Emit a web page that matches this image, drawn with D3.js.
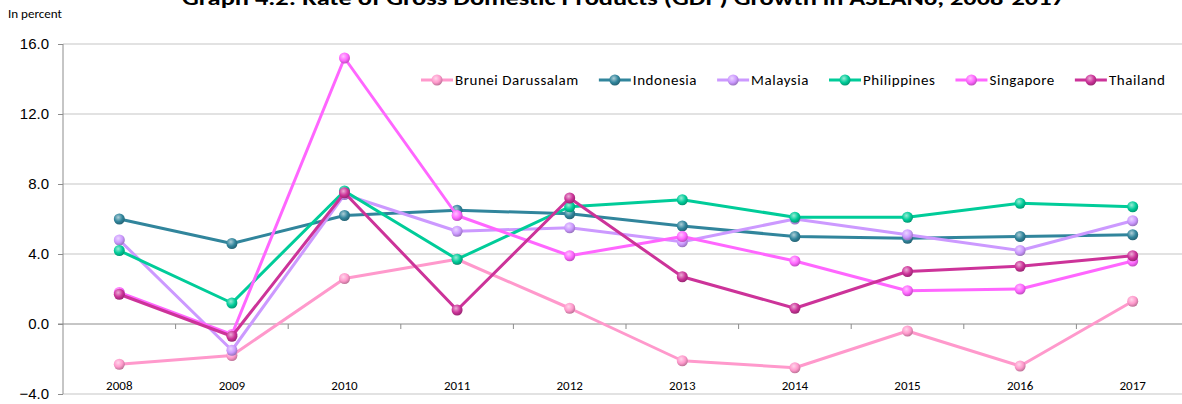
<!DOCTYPE html>
<html>
<head>
<meta charset="UTF-8">
<title>GDP Growth in ASEAN6</title>
<script src="https://d3js.org/d3.v7.min.js"></script>
<style>
  body { margin: 0; background: #fff; }
  svg { display: block; font-family: Carlito, Lato, "Liberation Sans", sans-serif; }
  .grid line { stroke: #d9d9d9; stroke-width: 1.5px; }
  .axis path, .axis line { stroke: #8c8c8c; }
  .axis text { fill: #000; }
</style>
</head>
<body>
<script>
// data
var years = ["2008","2009","2010","2011","2012","2013","2014","2015","2016","2017"];
var yTicks = [-4, 0, 4, 8, 12, 16];

var brunei      = [-2.3, -1.8, 2.6, 3.7, 0.9, -2.1, -2.5, -0.4, -2.4, 1.3];
var indonesia   = [6.0, 4.6, 6.2, 6.5, 6.3, 5.6, 5.0, 4.9, 5.0, 5.1];
var malaysia    = [4.8, -1.5, 7.4, 5.3, 5.5, 4.7, 6.0, 5.1, 4.2, 5.9];
var philippines = [4.2, 1.2, 7.6, 3.7, 6.7, 7.1, 6.1, 6.1, 6.9, 6.7];
var singapore   = [1.8, -0.6, 15.2, 6.2, 3.9, 5.0, 3.6, 1.9, 2.0, 3.6];
var thailand    = [1.7, -0.7, 7.5, 0.8, 7.2, 2.7, 0.9, 3.0, 3.3, 3.9];

var series = [
  {name: "Brunei Darussalam", values: brunei,      color: "#ff99cc"},
  {name: "Indonesia",         values: indonesia,   color: "#31859c"},
  {name: "Malaysia",          values: malaysia,    color: "#cc99ff"},
  {name: "Philippines",       values: philippines, color: "#00cc99"},
  {name: "Singapore",         values: singapore,   color: "#ff66ff"},
  {name: "Thailand",          values: thailand,    color: "#cc3399"}
];

var W = 1182, H = 404;
var plot = {left: 63, top: 44, bottom: 394};
var step = 112.6;

var svg = d3.select("body").append("svg").attr("width", W).attr("height", H);

// marker gradients
var defs = svg.append("defs");
series.forEach(function(s, i) {
  var g = defs.append("radialGradient").attr("id", "ball" + i)
    .attr("cx", "40%").attr("cy", "35%").attr("r", "65%");
  g.append("stop").attr("offset", "0%").attr("stop-color", d3.interpolateRgb(s.color, "#fff")(0.6));
  g.append("stop").attr("offset", "60%").attr("stop-color", s.color);
  g.append("stop").attr("offset", "100%").attr("stop-color", d3.color(s.color).darker(0.8));
});

var x = d3.scaleBand().domain(years).range([plot.left, plot.left + step * years.length]);
var y = d3.scaleLinear().domain([-4, 16]).range([plot.bottom, plot.top]);

// title (cut at top in the original)
svg.append("text")
  .attr("x", 182).attr("y", 5)
  .attr("textLength", 883).attr("lengthAdjust", "spacingAndGlyphs")
  .style("font-size", "21px").style("font-weight", "bold")
  .text("Graph 4.2: Rate of Gross Domestic Products (GDP) Growth in ASEAN6, 2008-2017");

svg.append("text")
  .attr("x", 8).attr("y", 18)
  .attr("textLength", 54).attr("lengthAdjust", "spacingAndGlyphs")
  .style("font-size", "12px")
  .text("In percent");

// gridlines
svg.append("g").attr("class", "grid")
  .selectAll("line").data(yTicks.filter(function(d) { return d !== 0; }))
  .enter().append("line")
  .attr("x1", plot.left).attr("x2", W)
  .attr("y1", function(d) { return y(d); }).attr("y2", function(d) { return y(d); });

// y axis
var yAxis = svg.append("g").attr("class", "axis")
  .attr("transform", "translate(" + plot.left + ",0)")
  .call(d3.axisLeft(y).tickValues(yTicks).tickFormat(d3.format(".1f")).tickSize(5).tickPadding(9));
yAxis.selectAll("text").style("font-size", "15px");
yAxis.select(".domain").attr("d", "M0," + plot.top + "V" + plot.bottom);

// zero line with category ticks
var xAxis = svg.append("g").attr("class", "axis")
  .attr("transform", "translate(0," + y(0) + ")");
xAxis.append("line").attr("x1", plot.left - 5).attr("x2", W).attr("y1", 0).attr("y2", 0);
xAxis.selectAll(".tk").data(years.slice(1))
  .enter().append("line").attr("class", "tk")
  .attr("x1", function(d) { return x(d); }).attr("x2", function(d) { return x(d); })
  .attr("y1", 0).attr("y2", 5);

// category labels at the bottom
svg.append("g").selectAll("text").data(years)
  .enter().append("text")
  .attr("x", function(d) { return x(d) + x.bandwidth() / 2; })
  .attr("y", 390)
  .attr("text-anchor", "middle")
  .style("font-size", "13px")
  .text(function(d) { return d; });

// lines
var line = d3.line()
  .x(function(d, i) { return x(years[i]) + x.bandwidth() / 2; })
  .y(function(d) { return y(d); });

var sg = svg.append("g").selectAll("g").data(series).enter().append("g");
sg.append("path")
  .attr("d", function(s) { return line(s.values); })
  .attr("fill", "none")
  .attr("stroke", function(s) { return s.color; })
  .attr("stroke-width", 3)
  .attr("stroke-linejoin", "round");
sg.each(function(s, si) {
  d3.select(this).selectAll("circle").data(s.values)
    .enter().append("circle")
    .attr("cx", function(d, i) { return x(years[i]) + x.bandwidth() / 2; })
    .attr("cy", function(d) { return y(d); })
    .attr("r", 5.5)
    .attr("fill", "url(#ball" + si + ")");
});

// legend
var legend = svg.append("g").attr("transform", "translate(0,80)");
var lx = 421;
series.forEach(function(s, i) {
  var it = legend.append("g").attr("transform", "translate(" + lx + ",0)");
  it.append("line").attr("x1", 0).attr("x2", 32).attr("y1", 0).attr("y2", 0)
    .attr("stroke", s.color).attr("stroke-width", 3);
  it.append("circle").attr("cx", 16).attr("cy", 0).attr("r", 5.5).attr("fill", "url(#ball" + i + ")");
  var t = it.append("text").attr("x", 34).attr("y", 5)
    .style("font-size", "15px").style("letter-spacing", "0.55px").text(s.name);
  lx += 34 + t.node().getComputedTextLength() + 20;
});
</script>
</body>
</html>
